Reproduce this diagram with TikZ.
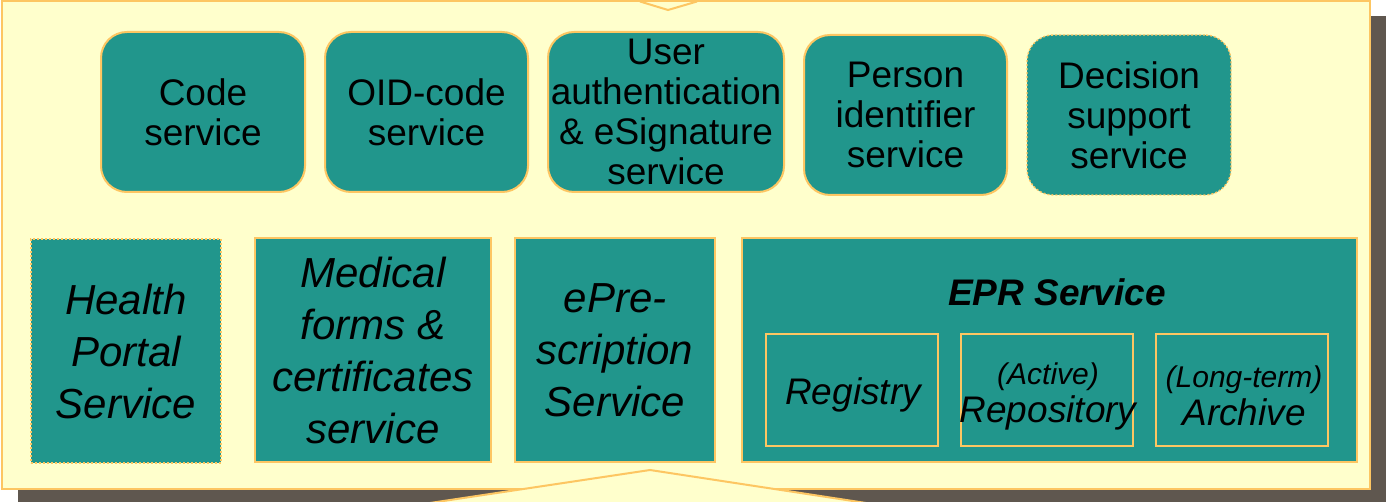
\documentclass[tikz,border=0pt]{standalone}
\usepackage{fontspec}
\setmainfont{Liberation Sans}
\definecolor{bgy}{HTML}{FFFFCC}
\definecolor{org}{HTML}{FDC662}
\definecolor{tealbox}{HTML}{21968C}
\definecolor{shad}{HTML}{5F574F}
\begin{document}
\begin{tikzpicture}[x=1pt,y=-1pt,
  topbox/.style={draw=org, line width=2pt, fill=tealbox, rounded corners=26pt, inner sep=0pt,
    minimum height=160pt, align=center, font=\fontsize{37}{40}\selectfont},
  botbox/.style={draw=org, line width=2pt, fill=tealbox, inner sep=0pt,
    minimum height=224pt, align=center, font=\fontsize{42}{52}\selectfont\itshape},
  subbox/.style={draw=org, line width=1.6pt, fill=tealbox, inner sep=0pt,
    minimum width=172pt, minimum height=112pt},
  sublbl/.style={inner sep=0pt, align=center, font=\fontsize{37}{38}\selectfont\itshape},
  dotborder/.style={dotted, line width=1.4pt}
]
\useasboundingbox (0,0) rectangle (1386,502);
% shadow and background
\fill[shad] (18,16) rectangle (1386,502);
\filldraw[fill=bgy, draw=org, line width=2pt] (2,1.5) rectangle (1370,489);
\draw[org, line width=2pt, line join=miter] (640,1.5) -- (668,10) -- (697,1.5);
\filldraw[fill=bgy, draw=org, line width=2pt] (430,503) -- (650,470) -- (866,503);

% top row
\node[topbox, minimum width=204pt] (code) at (203,112) {Code\\service};
\node[topbox, minimum width=203pt] (oid) at (426.5,112) {OID-code\\service};
\node[topbox, minimum width=236pt] (auth) at (666,112) {User\\authentication\\\& eSignature\\service};
\node[topbox, minimum width=203pt] (pid) at (905.5,115) {Person\\identifier\\service};
\node[topbox, dotborder, minimum width=204pt] (dec) at (1129,115) {Decision\\support\\service};

% bottom row
\node[botbox, dotborder, minimum width=190pt] (hp) at (126,351) {Health\\Portal\\Service};
\node[botbox, minimum width=236pt] (med) at (373,350) {Medical\\forms \&\\certificates\\service};
\node[botbox, minimum width=200pt] (epre) at (615,350) {ePre-\\scription\\Service};
\node[botbox, minimum width=615pt] (epr) at (1049.5,350) {};
\node[font=\fontsize{37}{40}\selectfont\bfseries\itshape, inner sep=0pt] (eprlbl) at (1057,292) {EPR Service};

\node[subbox] (reg) at (852,390) {};
\node[subbox] (rep) at (1047,390) {};
\node[subbox] (arc) at (1242,390) {};
\node[sublbl] (reglbl) at (853,395) {Registry};
\node[sublbl] (replbl) at (1048,396) {{\fontsize{30}{34}\selectfont (Active)}\\Repository};
\node[sublbl] (arclbl) at (1244,396) {{\fontsize{30}{34}\selectfont (Long-term)}\\Archive};
\end{tikzpicture}
\end{document}
